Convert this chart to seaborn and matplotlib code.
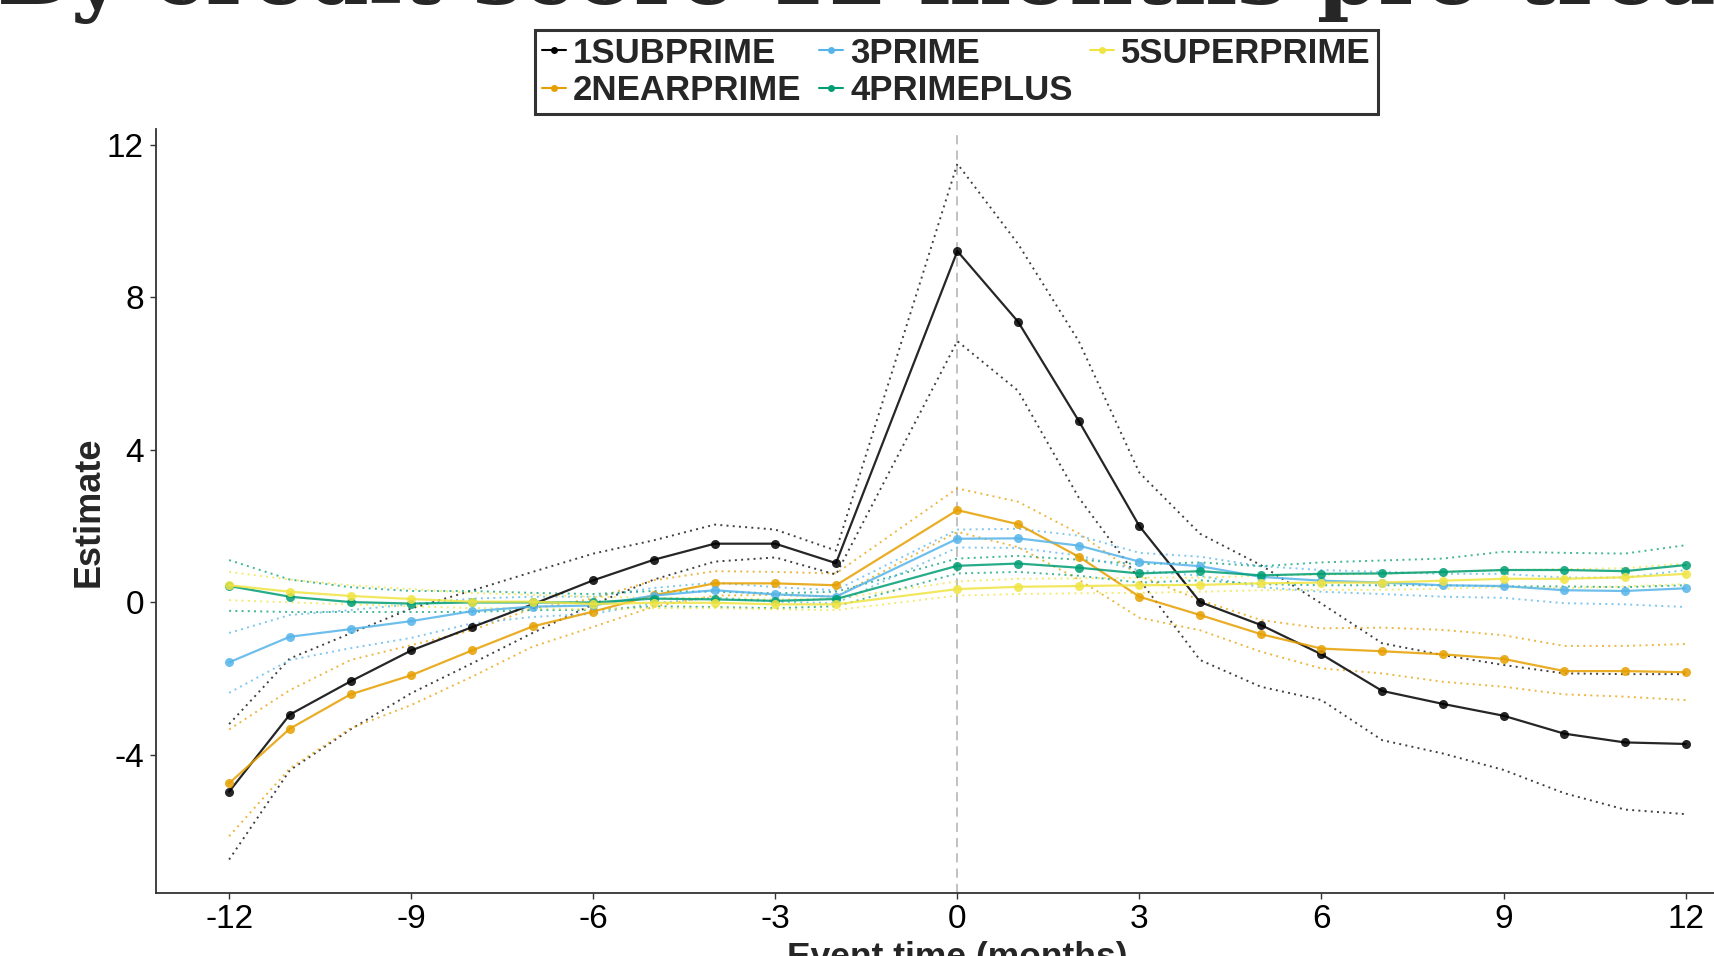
import numpy as np
import pandas as pd
import matplotlib
matplotlib.use("Agg")
import matplotlib.pyplot as plt
from matplotlib.lines import Line2D
import seaborn as sns

# ---------------- data ----------------
months = [-12, -11, -10, -9, -8, -7, -6, -5, -4, -3, -2, 0, 1, 2, 3, 4, 5, 6, 7, 8, 9, 10, 11, 12]
groups = ["1SUBPRIME", "2NEARPRIME", "3PRIME", "4PRIMEPLUS", "5SUPERPRIME"]

subprime_est = [-4.96, -2.94, -2.07, -1.26, -0.65, -0.05, 0.58, 1.12, 1.54, 1.54, 1.03, 9.21, 7.36, 4.76, 2.00, 0.01, -0.59, -1.36, -2.32, -2.66, -2.97, -3.44, -3.67, -3.71]
subprime_hi = [-3.19, -1.47, -0.81, -0.16, 0.31, 0.80, 1.28, 1.63, 2.04, 1.91, 1.36, 11.50, 9.40, 6.85, 3.40, 1.80, 0.98, -0.03, -1.07, -1.38, -1.64, -1.86, -1.88, -1.88]
subprime_lo = [-6.74, -4.40, -3.33, -2.38, -1.60, -0.80, -0.05, 0.60, 1.07, 1.18, 0.73, 6.85, 5.55, 2.75, 0.60, -1.51, -2.21, -2.56, -3.61, -3.96, -4.39, -5.00, -5.43, -5.55]

nearprime_est = [-4.74, -3.31, -2.41, -1.91, -1.26, -0.63, -0.24, 0.19, 0.50, 0.50, 0.45, 2.42, 2.05, 1.20, 0.15, -0.33, -0.83, -1.21, -1.28, -1.36, -1.48, -1.80, -1.80, -1.83]
nearprime_hi = [-3.33, -2.30, -1.51, -1.12, -0.73, -0.16, 0.10, 0.58, 0.82, 0.80, 0.76, 2.99, 2.64, 1.81, 0.70, 0.06, -0.46, -0.68, -0.66, -0.72, -0.86, -1.14, -1.14, -1.09]
nearprime_lo = [-6.13, -4.35, -3.30, -2.69, -1.95, -1.16, -0.64, -0.11, 0.18, 0.20, 0.15, 1.85, 1.45, 0.60, -0.40, -0.73, -1.29, -1.73, -1.86, -2.08, -2.21, -2.41, -2.47, -2.56]

prime_est = [-1.57, -0.90, -0.70, -0.49, -0.23, -0.11, -0.08, 0.18, 0.32, 0.21, 0.15, 1.67, 1.68, 1.49, 1.07, 0.95, 0.67, 0.57, 0.52, 0.45, 0.43, 0.32, 0.30, 0.37]
prime_hi = [-0.80, -0.33, -0.20, -0.05, 0.10, 0.15, 0.15, 0.38, 0.52, 0.40, 0.32, 1.91, 1.93, 1.75, 1.30, 1.20, 0.95, 0.85, 0.80, 0.75, 0.75, 0.65, 0.65, 0.85]
prime_lo = [-2.37, -1.51, -1.20, -0.93, -0.55, -0.38, -0.30, -0.02, 0.12, 0.02, -0.02, 1.44, 1.43, 1.23, 0.84, 0.70, 0.40, 0.28, 0.22, 0.15, 0.12, -0.02, -0.05, -0.12]

primeplus_est = [0.43, 0.15, 0.01, -0.03, 0.00, 0.00, 0.00, 0.10, 0.08, 0.04, 0.09, 0.96, 1.02, 0.91, 0.76, 0.82, 0.71, 0.75, 0.76, 0.80, 0.85, 0.85, 0.82, 0.98]
primeplus_hi = [1.11, 0.60, 0.40, 0.30, 0.30, 0.25, 0.22, 0.30, 0.28, 0.24, 0.28, 1.15, 1.22, 1.12, 1.00, 1.05, 0.95, 1.05, 1.10, 1.15, 1.33, 1.30, 1.28, 1.50]
primeplus_lo = [-0.22, -0.25, -0.25, -0.25, -0.25, -0.20, -0.20, -0.10, -0.12, -0.15, -0.10, 0.76, 0.80, 0.70, 0.52, 0.58, 0.48, 0.45, 0.45, 0.45, 0.42, 0.42, 0.40, 0.45]

superprime_est = [0.45, 0.28, 0.17, 0.09, 0.02, 0.02, -0.04, -0.01, -0.01, -0.05, -0.05, 0.35, 0.41, 0.43, 0.45, 0.46, 0.50, 0.52, 0.52, 0.57, 0.62, 0.62, 0.66, 0.75]
superprime_hi = [0.80, 0.60, 0.45, 0.35, 0.25, 0.20, 0.15, 0.12, 0.12, 0.08, 0.10, 0.55, 0.62, 0.63, 0.65, 0.65, 0.70, 0.73, 0.75, 0.80, 0.85, 0.87, 0.90, 1.02]
superprime_lo = [0.06, 0.00, -0.05, -0.10, -0.15, -0.15, -0.18, -0.15, -0.15, -0.18, -0.20, 0.18, 0.22, 0.24, 0.25, 0.28, 0.32, 0.33, 0.33, 0.36, 0.40, 0.38, 0.42, 0.48]

colors = ["#000000", "#E69F00", "#56B4E9", "#009E73", "#F0E442"]
x_ticks = [-12, -9, -6, -3, 0, 3, 6, 9, 12]
y_ticks = [-4, 0, 4, 8, 12]
title_text = "By credit score 12 months pre-treatment"
x_label = "Event time (months)"
y_label = "Estimate"

est_all = [subprime_est, nearprime_est, prime_est, primeplus_est, superprime_est]
hi_all = [subprime_hi, nearprime_hi, prime_hi, primeplus_hi, superprime_hi]
lo_all = [subprime_lo, nearprime_lo, prime_lo, primeplus_lo, superprime_lo]

rows = []
for g, e, h, l in zip(groups, est_all, hi_all, lo_all):
    for m, ev, hv, lv in zip(months, e, h, l):
        rows.append({"month": m, "group": g, "est": ev, "hi": hv, "lo": lv})
df = pd.DataFrame(rows)
palette = dict(zip(groups, colors))

# ---------------- style ----------------
sns.set_theme(style="white")
plt.rcParams["font.family"] = ["Liberation Sans", "DejaVu Sans"]

fig = plt.figure(figsize=(17.14, 9.56), dpi=100)
ax = fig.add_axes([0.0912, 0.0658, 0.9347, 0.7992])

# confidence bands (dotted)
for col in ["hi", "lo"]:
    sns.lineplot(data=df, x="month", y=col, hue="group", palette=palette,
                 hue_order=groups, estimator=None, sort=True, ax=ax,
                 linestyle=(0, (1, 2.2)), linewidth=1.4, alpha=0.75, legend=False)

# estimates
sns.lineplot(data=df, x="month", y="est", hue="group", palette=palette,
             hue_order=groups, estimator=None, sort=True, ax=ax,
             linewidth=1.6, alpha=0.85, marker="o", markersize=6.5,
             markeredgewidth=0, legend=False)

ax.axvline(0, color="#b0b0b0", linestyle=(0, (6, 4)), linewidth=1.1, zorder=0)

ax.set_xlim(-13.2, 13.2)
ax.set_ylim(-7.62, 12.41)
ax.set_xticks(x_ticks)
ax.set_xticklabels([str(v) for v in x_ticks])
ax.set_yticks(y_ticks)
ax.set_yticklabels([str(v) for v in y_ticks])
ax.set_xlabel("")
ax.set_ylabel("")
for side in ["top", "right"]:
    ax.spines[side].set_visible(False)
for side in ["left", "bottom"]:
    ax.spines[side].set_color("#333333")
    ax.spines[side].set_linewidth(1.3)
ax.tick_params(axis="both", which="both", direction="out", length=4, width=1,
               color="#333333", labelsize=24, labelcolor="black", pad=4,
               bottom=True, left=True)
ax.tick_params(axis="y", pad=5)

fig.text(89.6 / 1714, 1 - 511.6 / 956, y_label, rotation=90, ha="center",
         va="center", fontsize=26, fontweight="bold")
fig.text(957 / 1714, 1 - 941 / 956, x_label, ha="center", va="top",
         fontsize=25.5, fontweight="bold")

# title (cut off at the top like the reference)
fig.text(-3 / 1714, 1 - 4 / 956, title_text, ha="left", va="baseline",
         fontsize=63, fontweight="bold", family=["DejaVu Serif", "Liberation Serif"])

handles = [Line2D([0], [0], color=c, marker="o", markersize=5, markeredgewidth=0,
                  linewidth=1.5) for c in colors]
leg = fig.legend(handles, groups, loc="upper center", bbox_to_anchor=(0.558, 0.969),
                 ncol=3, frameon=True, fancybox=False, edgecolor="black",
                 prop={"weight": "bold", "size": 25}, handlelength=0.7,
                 handletextpad=0.2, columnspacing=0.5, labelspacing=0.12,
                 borderpad=0.2, borderaxespad=0)
leg.get_frame().set_linewidth(2.2)

fig.savefig("out.png", dpi=100)
